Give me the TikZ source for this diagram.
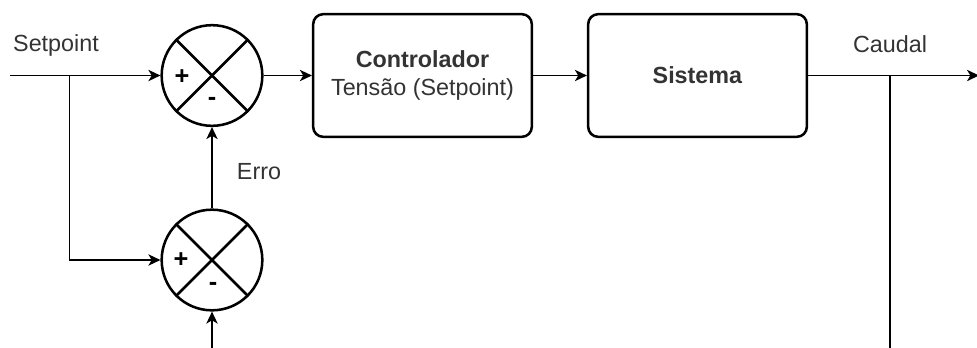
\documentclass[tikz,border=0pt]{standalone}
\usepackage{fontspec}
\setmainfont{Liberation Sans}
\usetikzlibrary{arrows.meta}
\definecolor{txt}{HTML}{333333}
\begin{document}
\begin{tikzpicture}[x=0.75pt,y=-0.75pt,
  line/.style={line width=1.2pt,draw=black},
  arr/.style={line,-{Stealth[length=9pt,width=8.5pt,inset=2.5pt]}},
  blk/.style={draw=black,line width=1.9pt,rounded corners=7.5pt,minimum width=164pt,minimum height=92pt,inner sep=0pt,align=center,font=\fontsize{17.5}{21}\selectfont,text=txt},
  sumc/.style={draw=black,line width=1.9pt,circle,minimum size=75.5pt,inner sep=0pt},
  lbl/.style={font=\fontsize{17.5}{21}\selectfont,text=txt,inner sep=0pt},
  sgn/.style={font=\bfseries\fontsize{19}{21}\selectfont,inner sep=0pt}]
\useasboundingbox (0,0) rectangle (977,347);
% summing junctions
\node[sumc] (s1) at (212,75.5) {};
\node[sumc] (s2) at (212,260) {};
\foreach \s in {s1,s2}{
  \draw[line width=1.9pt] (\s.north west) -- (\s.south east);
  \draw[line width=1.9pt] (\s.north east) -- (\s.south west);
}
\node[sgn] (p1) at (182,77) {+};
\node[sgn] (m1) at (212,101) {-};
\node[sgn] (p2) at (181,260) {+};
\node[sgn] (m2) at (213,286) {-};
% blocks
\node[blk] (ctrl) at (422.5,75.5) {\textbf{Controlador}\\Tensão (Setpoint)};
\node[blk] (sys) at (697.5,75.5) {\textbf{Sistema}};
% coordinates
\coordinate (in) at (10,75.5);
\coordinate (br) at (69.5,75.5);
\coordinate (brd) at (69.5,260);
\coordinate (bin) at (212,352);
\coordinate (out) at (979,75.5);
\coordinate (fb) at (890,75.5);
\coordinate (fbd) at (890,352);
% connectors
\draw[arr] (in) -- (s1.west);
\draw[arr] (br) -- (brd) -- (s2.west);
\draw[arr] (s2.north) -- (s1.south);
\draw[arr] (bin) -- (s2.south);
\draw[arr] (s1.east) -- (ctrl.west);
\draw[arr] (ctrl.east) -- (sys.west);
\draw[arr] (sys.east) -- (out);
\draw[line] (fb) -- (fbd);
% labels
\node[lbl] (lsp) at (56,45) {Setpoint};
\node[lbl] (ler) at (259,172) {Erro};
\node[lbl] (lca) at (890,44) {Caudal};
\end{tikzpicture}
\end{document}
